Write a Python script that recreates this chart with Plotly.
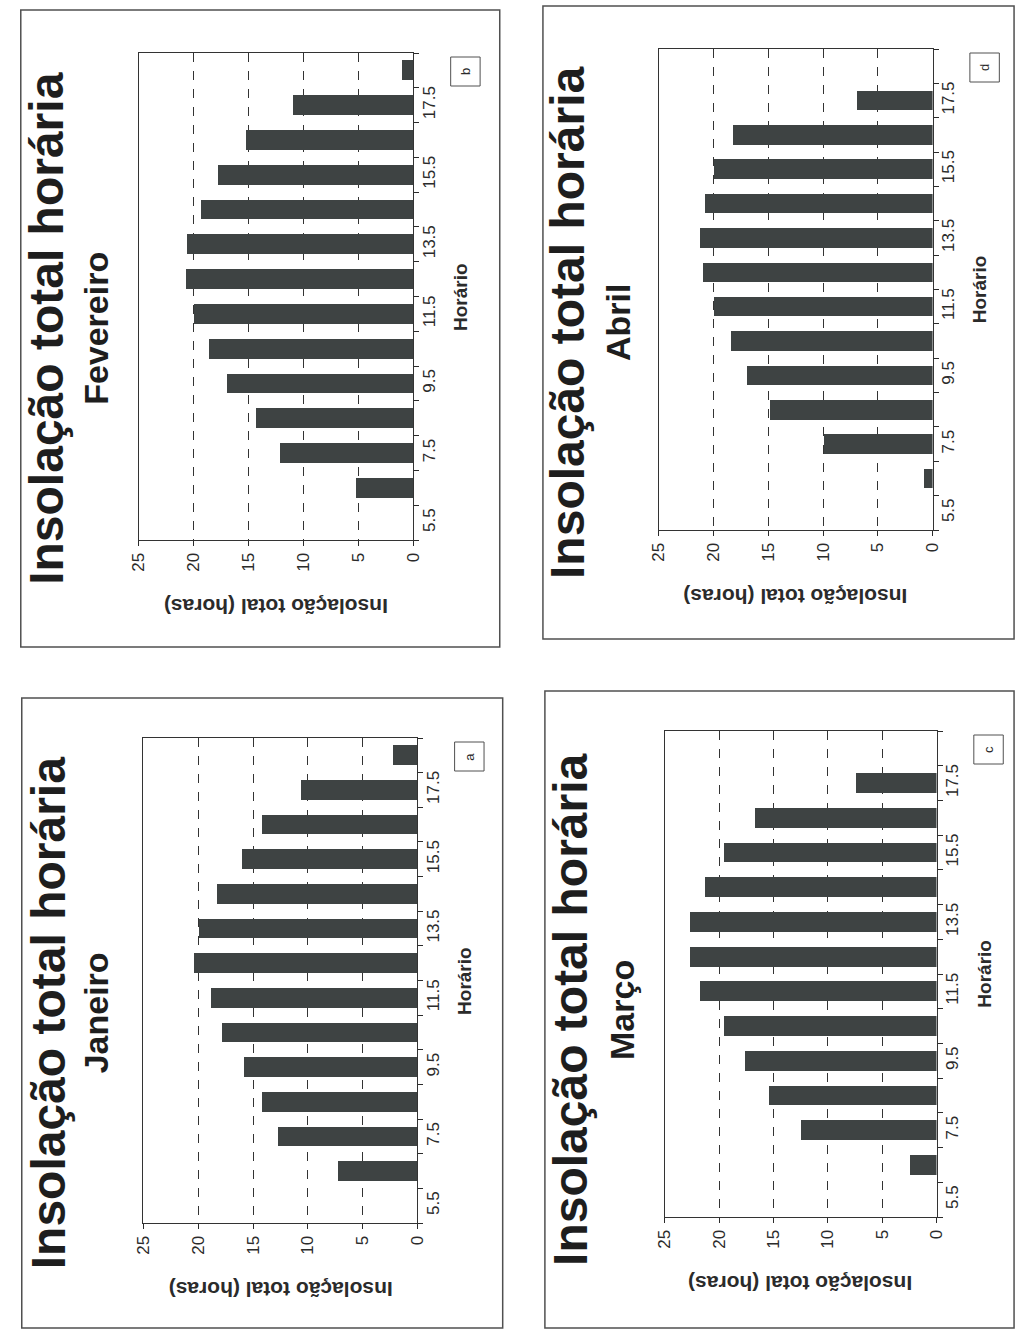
import plotly.graph_objects as go

# Hourly total insolation (hours) for each hour bin, Jan-Apr
horario = [5.5, 6.5, 7.5, 8.5, 9.5, 10.5, 11.5, 12.5, 13.5, 14.5, 15.5, 16.5, 17.5, 18.5]
janeiro = [0, 7.2, 12.7, 14.1, 15.8, 17.8, 18.8, 20.3, 19.9, 18.2, 16.0, 14.1, 10.6, 2.2]
fevereiro = [0, 5.3, 12.2, 14.4, 17.0, 18.6, 20.0, 20.7, 20.6, 19.4, 17.8, 15.3, 11.0, 1.1]
marco = [0, 2.5, 12.5, 15.4, 17.6, 19.6, 21.8, 22.7, 22.7, 21.3, 19.6, 16.7, 7.4, 0]
abril = [0, 0.8, 9.9, 14.9, 17.0, 18.4, 20.0, 21.0, 21.3, 20.8, 20.0, 18.2, 6.9, 0]

hour_tickvals = [5.5, 7.5, 9.5, 11.5, 13.5, 15.5, 17.5]
hour_ticktext = ["5.5", "7.5", "9.5", "11.5", "13.5", "15.5", "17.5"]
value_tickvals = [0, 5, 10, 15, 20, 25]

titulo = "Insolação total horária"
titulo_y = "Insolação total (horas)"
titulo_x = "Horário"

W, H = 1027, 1332
FONT = "Liberation Sans, Arial, sans-serif"
INK = "#2b2b2b"
BAR = "#3e4343"

# page layout (pixels): panel frame, plot box, title column, subtitle column
panels = [
    dict(mes="Fevereiro", letra="b", valores=fevereiro,
         frame=(12, 10, 500, 647), plot=(132, 53, 412, 540), tx=38, sx=88),
    dict(mes="Abril", letra="d", valores=abril,
         frame=(544, 6, 1024, 639), plot=(662, 49, 941, 530), tx=569, sx=620),
    dict(mes="Janeiro", letra="a", valores=janeiro,
         frame=(13, 698, 503, 1328), plot=(137, 738, 416, 1223), tx=40, sx=89),
    dict(mes="Março", letra="c", valores=marco,
         frame=(546, 691, 1024, 1328), plot=(668, 731, 945, 1217), tx=572, sx=624),
]


def px(x):
    return x / W


def py(y):
    return 1 - y / H


def label(text, x, y, size, angle, bold=False, color=INK):
    return dict(text=("<b>%s</b>" % text) if bold else text,
                x=px(x), y=py(y), xref="paper", yref="paper",
                xanchor="center", yanchor="middle", showarrow=False,
                textangle=angle, font=dict(family=FONT, size=size, color=color))


fig = go.Figure()
shapes = []
annotations = []
layout_axes = {}

for i, p in enumerate(panels, start=1):
    xs = "" if i == 1 else str(i)
    fx0, fy0, fx1, fy1 = p["frame"]
    x0, y0, x1, y1 = p["plot"]

    fig.add_trace(go.Bar(
        x=p["valores"], y=horario, orientation="h", width=0.57,
        marker=dict(color=BAR, line=dict(width=0)),
        xaxis="x" + xs, yaxis="y" + xs, showlegend=False,
    ))

    layout_axes["xaxis" + xs] = dict(
        domain=[px(x0), px(x1)], anchor="y" + xs, range=[25, 0],
        tickvals=value_tickvals, tickangle=-90,
        tickfont=dict(family=FONT, size=17, color=INK),
        ticks="outside", ticklen=5, tickcolor=INK,
        showgrid=True, gridcolor="#333333", griddash="dash", gridwidth=1,
        showline=True, linecolor="#333333", linewidth=1, mirror=True,
        zeroline=False, fixedrange=True,
    )
    layout_axes["yaxis" + xs] = dict(
        domain=[py(y1), py(y0)], anchor="x" + xs, side="right", range=[5, 19],
        tickvals=hour_tickvals, ticktext=hour_ticktext, tickangle=-90,
        tickfont=dict(family=FONT, size=17, color=INK), ticks="",
        minor=dict(tickvals=list(range(5, 20)), ticks="outside", ticklen=5,
                   tickcolor=INK, showgrid=False),
        showgrid=False, showline=True, linecolor="#333333", linewidth=1,
        mirror=True, zeroline=False, fixedrange=True,
    )

    # panel frame
    shapes.append(dict(type="rect", xref="paper", yref="paper",
                       x0=px(fx0), x1=px(fx1), y0=py(fy1), y1=py(fy0),
                       line=dict(color="#505050", width=1.5)))
    # letter box
    bx0, bx1 = x1 + 38, x1 + 68
    by0, by1 = y0 + 4, y0 + 33
    shapes.append(dict(type="rect", xref="paper", yref="paper",
                       x0=px(bx0), x1=px(bx1), y0=py(by1), y1=py(by0),
                       line=dict(color="#505050", width=1)))
    annotations.append(label(p["letra"], (bx0 + bx1) / 2, (by0 + by1) / 2, 13, -90))

    cy = (fy0 + fy1) / 2
    annotations.append(label(titulo, p["tx"], cy, 48, -90, bold=True, color="#1e1e1e"))
    annotations.append(label(p["mes"], p["sx"], cy, 34, -90, bold=True, color="#1e1e1e"))
    annotations.append(label(titulo_y, (x0 + x1) / 2, y1 + 67, 21, 180, bold=True))
    annotations.append(label(titulo_x, x1 + 48, (y0 + y1) / 2, 19, -90, bold=True))

fig.update_layout(
    width=W, height=H, margin=dict(l=0, r=0, t=0, b=0),
    paper_bgcolor="white", plot_bgcolor="white",
    bargap=0, shapes=shapes, annotations=annotations,
    **layout_axes,
)

fig.write_html("out.html")
